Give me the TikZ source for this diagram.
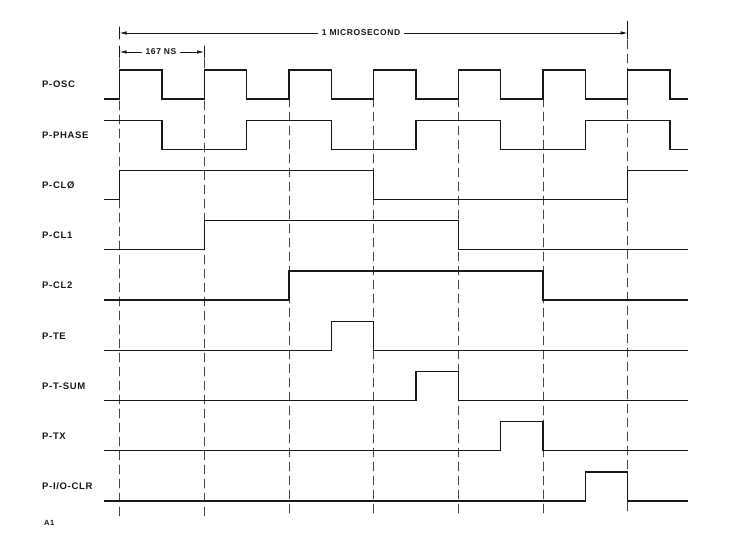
\documentclass[tikz,border=0pt]{standalone}
\usepackage{fontspec}
\setmainfont{Liberation Sans}
\newfontfamily\labelfont[LetterSpace=7]{Liberation Sans}
\usetikzlibrary{arrows.meta}
\definecolor{TimingInk}{RGB}{25,25,25}
\definecolor{TimingGuide}{RGB}{70,70,70}

\begin{document}
\begin{tikzpicture}[x=1bp,y=1bp,line cap=round,line join=round]
  \path[use as bounding box] (0,0) rectangle (751,549);
  \fill[white] (0,0) rectangle (751,549);

  \tikzset{
    signame/.style={anchor=west,inner sep=0pt,text=TimingInk,
      font=\labelfont\fontsize{9.5bp}{9.5bp}\selectfont\bfseries},
    dimtext/.style={inner sep=4bp,text=TimingInk,
      font=\labelfont\fontsize{8.5bp}{8.5bp}\selectfont\bfseries},
    wave/.style={line width=1.3bp,draw=TimingInk,line cap=butt,line join=miter},
    guide/.style={line width=0.7bp,draw=TimingGuide,dash pattern=on 9bp off 5bp},
    tick/.style={line width=0.9bp,draw=TimingInk},
    dimarrow/.style={-{Latex[length=7bp,width=3.5bp]},line width=0.8bp,TimingInk},
  }

  % time grid
  \foreach \k in {0,...,6}
    \coordinate (g\k) at ({119.5+84.7*\k},0);
  \coordinate (microrow) at (0,516);
  \coordinate (nsrow) at (0,497);
  \coordinate (guidetop) at (0,479);
  \coordinate (guidebot) at (0,33);

  % dashed guides
  \draw[guide] ([yshift=-7bp]g0 |- nsrow) -- (g0 |- guidebot);
  \draw[guide] ([yshift=-7bp]g1 |- nsrow) -- (g1 |- guidebot);
  \foreach \k in {2,...,5}
    \draw[guide] (g\k |- guidetop) -- (g\k |- guidebot);
  \draw[guide] ([yshift=-7bp]g6 |- microrow) -- (g6 |- guidebot);

  % 1 microsecond and 167 ns spans
  \draw[tick] ([yshift=-6bp]g0 |- microrow) -- ([yshift=6bp]g0 |- microrow);
  \draw[tick] ([yshift=-6bp]g6 |- microrow) -- ([yshift=12bp]g6 |- microrow);
  \node[dimtext] (micro) at (361,516) {1 MICROSECOND};
  \draw[dimarrow] (micro.west) -- (g0 |- microrow);
  \draw[dimarrow] (micro.east) -- (g6 |- microrow);

  \draw[tick] ([yshift=-6bp]g0 |- nsrow) -- ([yshift=6bp]g0 |- nsrow);
  \draw[tick] ([yshift=-6bp]g1 |- nsrow) -- ([yshift=6bp]g1 |- nsrow);
  \node[dimtext] (ns) at (161,497) {167 NS};
  \draw[dimarrow] (ns.west) -- (g0 |- nsrow);
  \draw[dimarrow] (ns.east) -- (g1 |- nsrow);

  % signal names
  \foreach \name/\txt/\i in {osc/P-OSC/0,phase/P-PHASE/1,clzero/P-CLØ/2,
      clone/P-CL1/3,cltwo/P-CL2/4,te/P-TE/5,tsum/P-T-SUM/6,tx/P-TX/7,
      ioclr/{P-I/O-CLR}/8}
    \node[signame] (\name) at (42,{464.5-50.25*\i}) {\txt};
  \node[signame,font=\labelfont\fontsize{7.5bp}{7.5bp}\selectfont\bfseries]
    (fig) at (44,26) {A1};

  % waveforms
  \draw[wave] (104,450) \foreach \k in {0,...,6} {
      -| ({119.5+84.7*\k},479) -| ({161.85+84.7*\k},450) } -- (688,450);
  \draw[wave] (104,428.75) -| (161.85,399.75) -| (246.55,428.75)
    -| (331.25,399.75) -| (415.95,428.75) -| (500.65,399.75)
    -| (585.35,428.75) -| (670.05,399.75) -- (688,399.75);
  \draw[wave] (104,349.5) -| (119.5,378.5) -| (373.6,349.5)
    -| (627.7,378.5) -- (688,378.5);
  \draw[wave] (104,299.25) -| (204.2,328.25) -| (458.3,299.25) -- (688,299.25);
  \draw[wave] (104,249) -| (288.9,278) -| (543,249) -- (688,249);
  \foreach \i/\rise in {5/331.25,6/415.95,7/500.65,8/585.35} {
    \pgfmathsetmacro{\lo}{450-50.25*\i}
    \draw[wave] (104,\lo) -| (\rise,\lo+29) -| (\rise+42.35,\lo) -- (688,\lo);
  }
\end{tikzpicture}
\end{document}
